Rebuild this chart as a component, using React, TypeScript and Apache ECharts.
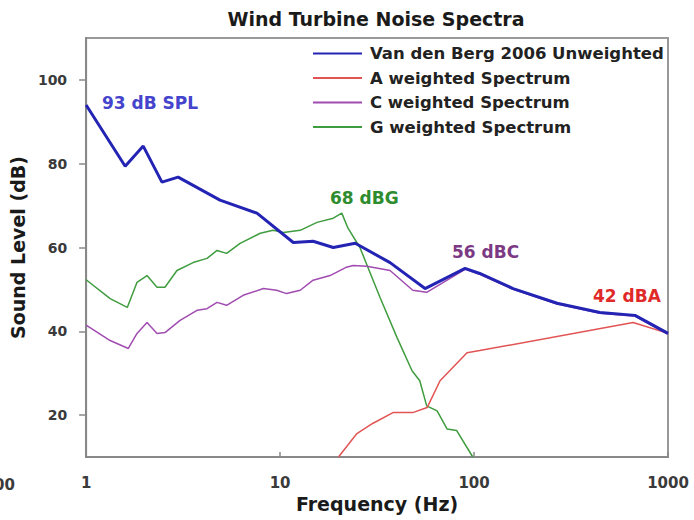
import React, { useEffect, useRef } from "react";
import * as echarts from "echarts";

const FONT = "'DejaVu Sans', 'Liberation Sans', Arial, sans-serif";

const title = "Wind Turbine Noise Spectra";
const seriesNames = [
  "Van den Berg 2006 Unweighted",
  "A weighted Spectrum",
  "C weighted Spectrum",
  "G weighted Spectrum",
];
const xTicks = [1, 10, 100, 1000];
const yTicks = [20, 40, 60, 80, 100];

// [frequency Hz, level dB]
const unweighted: [number, number][] = [
  [1, 94], [1.59, 79.4], [1.97, 84.2], [2.46, 75.6], [2.98, 76.8], [4.9, 71.3],
  [7.6, 68.2], [11.7, 61.2], [14.8, 61.5], [18.8, 60], [24.4, 61], [36.9, 56.4],
  [55.9, 50.2], [89.9, 55], [107, 53.8], [159, 50.2], [268, 46.7], [446, 44.5],
  [676, 43.8], [1000, 39.5],
];
const aWeighted: [number, number][] = [
  [20, 10], [24.9, 15.6], [30, 18], [38.2, 20.6], [48.3, 20.6], [57.3, 21.8],
  [66.8, 28.2], [92, 34.9], [107, 35.4], [661, 42.1], [1000, 39.5],
];
const cWeighted: [number, number][] = [
  [1, 41.5], [1.33, 37.8], [1.65, 35.9], [1.83, 39.5], [2.06, 42.1], [2.32, 39.5],
  [2.55, 39.7], [3.05, 42.6], [3.73, 45], [4.2, 45.4], [4.73, 46.9], [5.3, 46.2],
  [6.45, 48.6], [8.2, 50.2], [9.6, 49.8], [10.8, 49], [12.7, 49.8], [14.8, 52.2],
  [18.1, 53.3], [22, 55.3], [23.8, 55.7], [28, 55.5], [36.9, 54.5], [48.3, 49.8],
  [57, 49.3], [89.9, 54.8], [107, 53.6], [159, 50], [268, 46.5], [446, 44.3],
  [676, 43.6], [1000, 39.3],
];
const gWeighted: [number, number][] = [
  [1, 52.3], [1.33, 47.8], [1.63, 45.7], [1.83, 51.7], [2.06, 53.3], [2.32, 50.5],
  [2.55, 50.5], [2.94, 54.5], [3.56, 56.4], [4.2, 57.4], [4.73, 59.3], [5.3, 58.6],
  [6.22, 61], [7.9, 63.4], [9.2, 64.1], [10.4, 63.6], [12.7, 64.1], [15.5, 66],
  [18.8, 67], [20.8, 68.2], [22.4, 64.6], [25.8, 60], [32.8, 48], [40.1, 38.5],
  [47.9, 30.6], [52.5, 28.2], [57, 22.2], [64.5, 21], [72.6, 16.7], [81.4, 16.3],
  [98.5, 10],
];

const colors = ["#2424b4", "#e25454", "#a04cb0", "#3f9c3f"];

export default function App() {
  const ref = useRef<HTMLDivElement>(null);
  useEffect(() => {
    if (!ref.current) return;
    const chart = echarts.init(ref.current, null, { renderer: "svg" });
    const mk = (i: number, data: [number, number][], width: number, z: number) => ({
      name: seriesNames[i],
      type: "line",
      data,
      symbol: "none",
      z,
      lineStyle: { color: colors[i], width },
      itemStyle: { color: colors[i] },
    });
    chart.setOption({
      animation: false,
      backgroundColor: "#ffffff",
      title: {
        text: title,
        left: 376,
        textAlign: "center",
        top: 9,
        padding: 0,
        textStyle: { fontFamily: FONT, fontSize: 19, fontWeight: "bold", color: "#1a1a1a" },
      },
      legend: {
        orient: "vertical",
        left: 312,
        top: 45,
        padding: 0,
        itemWidth: 49,
        itemHeight: 14,
        itemGap: 7.5,
        data: seriesNames,
        itemStyle: { opacity: 0 },
        textStyle: { fontFamily: FONT, fontSize: 16.5, fontWeight: "bold", color: "#222", padding: [0, 0, 0, 3] },
      },
      grid: {
        left: 86,
        right: 26,
        top: 38,
        bottom: 63,
        show: true,
        borderColor: "#999",
        borderWidth: 2,
      },
      xAxis: {
        type: "log",
        logBase: 10,
        min: 1,
        max: 1000,
        name: "Frequency (Hz)",
        nameLocation: "middle",
        nameGap: 36,
        nameTextStyle: { fontFamily: FONT, fontSize: 19, fontWeight: "bold", color: "#1a1a1a" },
        axisLine: { lineStyle: { color: "#888", width: 2 } },
        axisTick: { inside: true, length: 5, lineStyle: { color: "#888", width: 1.5 }, customValues: xTicks },
        axisLabel: {
          fontFamily: FONT, fontSize: 15, fontWeight: "bold", color: "#3a3a3a", margin: 18, customValues: xTicks,
          formatter: (v: number) => String(v),
        },
        splitLine: { show: false },
        minorTick: { show: false },
      },
      yAxis: {
        type: "value",
        min: 10,
        max: 110,
        interval: 10,
        name: "Sound Level (dB)",
        nameLocation: "middle",
        nameGap: 53,
        nameTextStyle: { fontFamily: FONT, fontSize: 19, fontWeight: "bold", color: "#1a1a1a" },
        axisLine: { show: true, lineStyle: { color: "#888", width: 2 } },
        axisTick: { show: true, length: 7, lineStyle: { color: "#888", width: 1.5 }, customValues: yTicks },
        axisLabel: { fontFamily: FONT, fontSize: 14, fontWeight: "bold", color: "#3a3a3a", margin: 19, customValues: yTicks },
        splitLine: { show: false },
      },
      graphic: [
        { type: "text", x: 102, y: 103, style: { text: "93 dB SPL", fill: "#4444cc", font: `bold 17px ${FONT}`, verticalAlign: "middle" } },
        { type: "text", x: 330, y: 198, style: { text: "68 dBG", fill: "#2e8c2e", font: `bold 17px ${FONT}`, verticalAlign: "middle" } },
        { type: "text", x: 452, y: 252, style: { text: "56 dBC", fill: "#7c3a84", font: `bold 17px ${FONT}`, verticalAlign: "middle" } },
        { type: "text", x: 593, y: 296, style: { text: "42 dBA", fill: "#e02a2a", font: `bold 17px ${FONT}`, verticalAlign: "middle" } },
        { type: "text", x: 15, y: 485, style: { text: "100", fill: "#3a3a3a", font: `bold 15px ${FONT}`, align: "right", verticalAlign: "middle" } },
      ],
      series: [
        mk(3, gWeighted, 1.5, 2),
        mk(1, aWeighted, 1.5, 3),
        mk(2, cWeighted, 1.5, 4),
        mk(0, unweighted, 3, 5),
      ],
    });
    return () => chart.dispose();
  }, []);
  return (
    <div
      ref={ref}
      style={{ position: "fixed", left: 0, top: 0, width: 694, height: 520, background: "#fff" }}
    />
  );
}
